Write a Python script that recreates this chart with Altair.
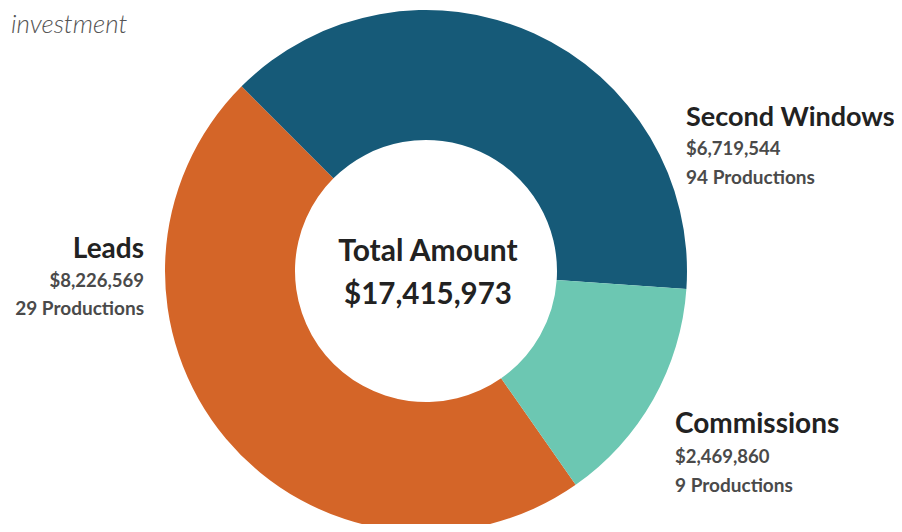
import math
import altair as alt
import pandas as pd

# ---- data ----
categories = ["Leads", "Second Windows", "Commissions"]
amounts = [8226569, 6719544, 2469860]
productions = [29, 94, 9]
slice_order = [0, 1, 2]
colors = ["#D46528", "#165A78", "#6CC7B2"]

df = pd.DataFrame({
    "category": categories,
    "amount": amounts,
    "productions": productions,
    "order": slice_order,
})
df["amount_label"] = df["amount"].map(lambda v: f"${v:,.0f}")
df["prod_label"] = df["productions"].astype(str) + " Productions"
total = sum(amounts)
center_df = pd.DataFrame({"line1": ["Total Amount"], "line2": [f"${total:,.0f}"]})

# ---- layout ----
W, H = 886, 516
CX, CY = 418, 263
START = math.radians(145)
FONT = "Lato"

arc = alt.Chart(df).mark_arc(radius=261, radius2=131, strokeWidth=0).encode(
    theta=alt.Theta("amount:Q", stack=True,
                    scale=alt.Scale(range=[START, START + 2 * math.pi])),
    color=alt.Color("category:N", scale=alt.Scale(domain=categories, range=colors), legend=None),
    order=alt.Order("order:Q"),
    x=alt.value(CX),
    y=alt.value(CY),
)

label_pos = {
    "Second Windows": (678, [110, 141, 170], "left", 27),
    "Leads": (136, [242, 273, 301], "right", 28),
    "Commissions": (667, [417, 449, 478], "left", 28),
}

layers = [arc]
for cat, (lx, ys, al, fs) in label_pos.items():
    base = alt.Chart(df).transform_filter(alt.datum.category == cat)
    layers.append(base.mark_text(align=al, baseline="middle", font=FONT, fontSize=fs,
                                 fontWeight="bold", color="#222222").encode(
        text="category:N", x=alt.value(lx), y=alt.value(ys[0])))
    layers.append(base.mark_text(align=al, baseline="middle", font=FONT, fontSize=18.5,
                                 fontWeight="bold", color="#4a4a4a").encode(
        text="amount_label:N", x=alt.value(lx), y=alt.value(ys[1])))
    layers.append(base.mark_text(align=al, baseline="middle", font=FONT, fontSize=19,
                                 fontWeight="bold", color="#4a4a4a").encode(
        text="prod_label:N", x=alt.value(lx), y=alt.value(ys[2])))

cbase = alt.Chart(center_df)
layers.append(cbase.mark_text(align="center", baseline="middle", font=FONT, fontSize=30,
                              fontWeight="bold", color="#222222").encode(
    text="line1:N", x=alt.value(420), y=alt.value(244)))
layers.append(cbase.mark_text(align="center", baseline="middle", font=FONT, fontSize=29.5,
                              fontWeight="bold", color="#222222").encode(
    text="line2:N", x=alt.value(420), y=alt.value(287)))

title_df = pd.DataFrame({"t": ["investment"]})
layers.append(alt.Chart(title_df).mark_text(align="left", baseline="middle", font=FONT,
                                            fontSize=26, fontStyle="italic", fontWeight=300,
                                            color="#555555").encode(
    text="t:N", x=alt.value(3), y=alt.value(17)))

chart = alt.layer(*layers).properties(
    width=W, height=H,
    autosize=alt.AutoSizeParams(type="fit", contains="padding"),
    padding=0,
).configure_view(stroke=None)

chart.save("out.html", embed_options={"renderer": "svg", "actions": False})
